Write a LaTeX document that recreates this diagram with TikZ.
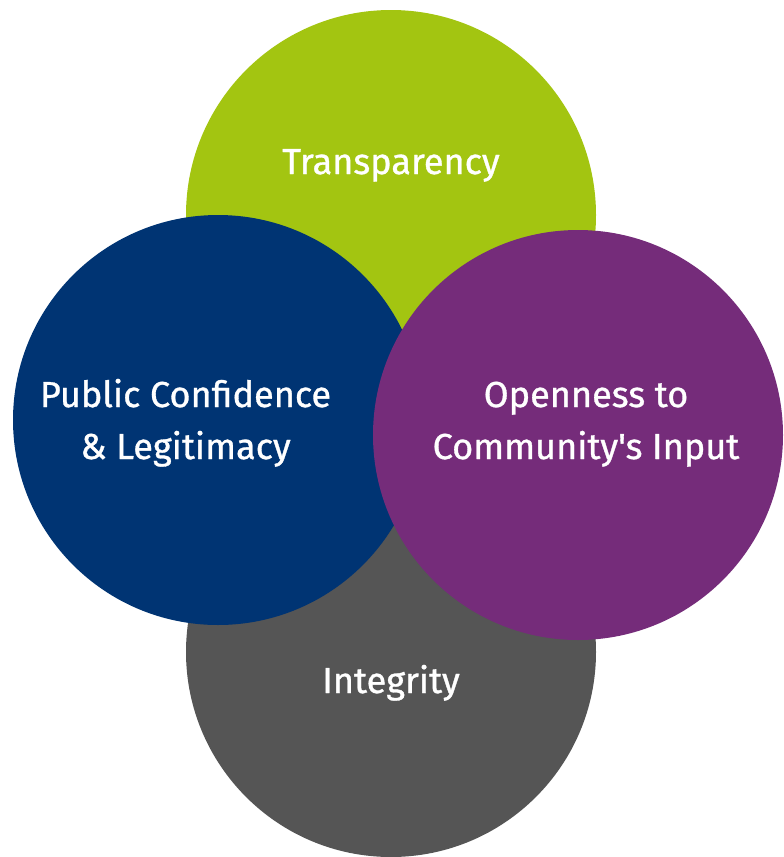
\documentclass[tikz,border=0pt]{standalone}
\usepackage{fontspec}
\setmainfont{Fira Sans}[FakeBold=0.9, Ligatures=TeXOff]
\definecolor{cgreen}{HTML}{A3C511}
\definecolor{cblue}{HTML}{003473}
\definecolor{cpurple}{HTML}{752C7A}
\definecolor{cgray}{HTML}{555555}
\tikzset{
  bubble/.style={circle, minimum size=410pt, inner sep=0pt, draw=none},
  lbl/.style={text=white, font=\fontsize{36.1}{43}\selectfont, anchor=base, inner sep=0pt}
}
\begin{document}
\begin{tikzpicture}[x=1pt,y=-1pt]
\useasboundingbox (0,0) rectangle (784,857);
\node[bubble, fill=cgreen] (green) at (391,215) {};
\node[bubble, fill=cgray] (gray) at (391,652) {};
\node[bubble, fill=cblue] (blue) at (218,420) {};
\node[bubble, fill=cpurple] (purple) at (578,435) {};
\node[lbl] (t1) at (391,174) {Transparency};
\node[lbl] (i1) at (391,693) {Integrity};
\node[lbl] (p1) at (185.5,407) {Public Confidence};
\node[lbl] (p2) at (185.5,459) {\& Legitimacy};
\node[lbl] (o1) at (586,407) {Openness to};
\node[lbl] (o2) at (586,459) {Community's Input};
\end{tikzpicture}
\end{document}
